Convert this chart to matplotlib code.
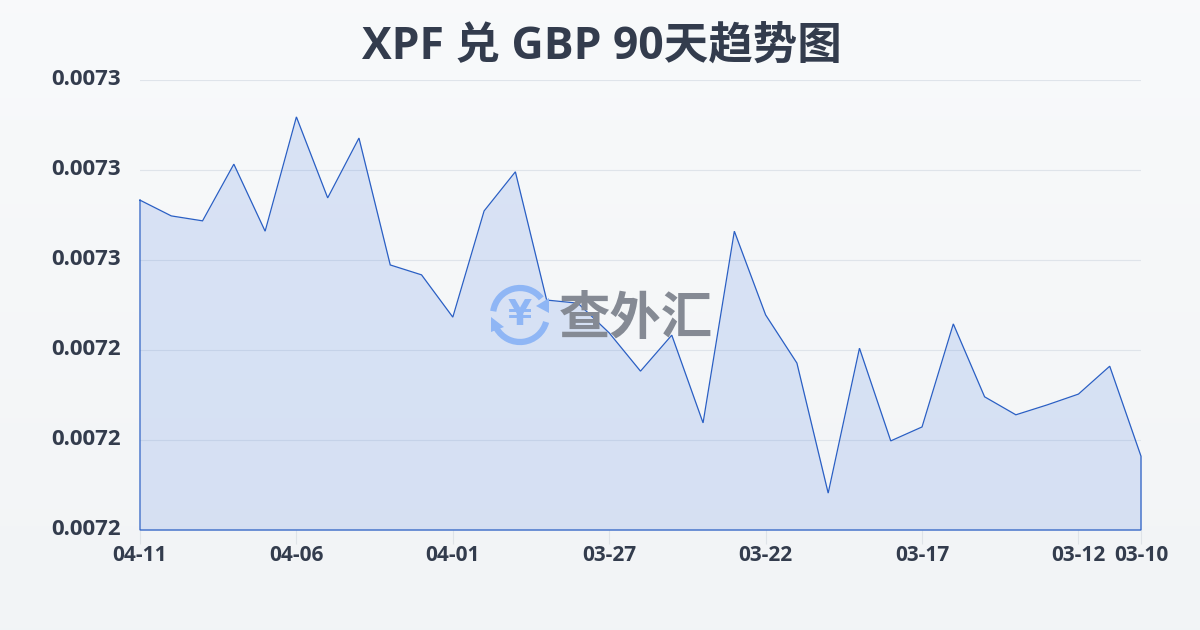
import numpy as np
import matplotlib
matplotlib.use("Agg")
import matplotlib.pyplot as plt
from matplotlib.patches import Arc, Polygon

plt.rcParams['font.family'] = ['Open Sans', 'Noto Sans CJK SC', 'DejaVu Sans']

title = "XPF 兑 GBP 90天趋势图"
watermark = "查外汇"
positions = list(range(33))
tick_positions = [0, 5, 10, 15, 20, 25, 30, 32]
tick_labels = ["04-11", "04-06", "04-01", "03-27", "03-22", "03-17", "03-12", "03-10"]
values = [0.0072733, 0.0072698, 0.0072687, 0.0072813, 0.0072664, 0.0072918,
          0.0072738, 0.0072871, 0.0072589, 0.0072567, 0.0072473, 0.0072709,
          0.0072796, 0.0072511, 0.0072504, 0.0072438, 0.0072353, 0.0072433,
          0.0072238, 0.0072664, 0.0072478, 0.0072371, 0.0072082, 0.0072404,
          0.0072198, 0.0072229, 0.0072458, 0.0072296, 0.0072256, 0.0072278,
          0.0072302, 0.0072364, 0.0072164]
y_ticks = [0.00720, 0.00722, 0.00724, 0.00726, 0.00728, 0.00730]

TEXT = "#333c4d"
LINE = "#2a5fc4"

fig = plt.figure(figsize=(12, 6.3), dpi=100)
bg = fig.add_axes([0, 0, 1, 1], zorder=0)
top = np.array([0.973, 0.980, 0.984])
bottom = np.array([0.949, 0.957, 0.965])
grad = top + np.linspace(0, 1, 256)[:, None, None] * (bottom - top)
bg.imshow(grad, aspect='auto', extent=[0, 1, 0, 1])
bg.axis('off')

ax = fig.add_axes([140/1200, 1-530/630, 1001/1200, 450/630], zorder=1)
ax.patch.set_alpha(0)
ax.set_xlim(0, 32)
ax.set_ylim(0.00720, 0.00730)
for s in ax.spines.values():
    s.set_visible(False)
ax.set_yticks(y_ticks)
ax.set_yticklabels([f"{v:.4f}" for v in y_ticks], fontsize=16, fontweight='bold', color=TEXT)
ax.set_xticks(tick_positions)
ax.set_xticklabels(tick_labels, fontsize=15, fontweight='bold', color=TEXT)
ax.tick_params(axis='y', length=0, pad=14)
for lab in ax.get_yticklabels():
    lab.set_verticalalignment('center')
ax.tick_params(axis='x', length=10, width=0.8, color="#dfe3e8", pad=1)
ax.grid(axis='y', color="#dfe4ea", lw=0.8)
ax.set_axisbelow(True)

ax.fill_between(positions, values, 0.00720, color="#3f74e0", alpha=0.16, lw=0, zorder=2)
ax.plot(positions + [32, 0, 0], values + [0.00720, 0.00720, values[0]], color=LINE, lw=0.9,
        zorder=5, clip_on=False, solid_joinstyle='miter')

fig.text(601.5/1200, 1-47/630, title, ha='center', va='center', fontsize=32, fontweight='bold', color=TEXT, zorder=3)

# watermark, drawn in figure pixel coordinates
wm = fig.add_axes([0, 0, 1, 1], zorder=2)
wm.set_xlim(0, 1200)
wm.set_ylim(630, 0)
wm.axis('off')
blue = "#8fb6f5"
cx, cy, d = 520, 315, 54
# the y axis of this overlay points down, so arc angles run clockwise on screen
wm.add_patch(Arc((cx, cy), d, d, theta1=188, theta2=322, color=blue, lw=4.5))
wm.add_patch(Arc((cx, cy), d, d, theta1=15, theta2=150, color=blue, lw=4.5))
wm.add_patch(Polygon([[549, 298], [549, 313], [536, 306]], closed=True, color=blue, lw=0))
wm.add_patch(Polygon([[491, 317], [491, 332], [504, 327]], closed=True, color=blue, lw=0))
wm.text(cx, cy, "¥", ha='center', va='center', fontsize=25, fontweight='bold', color=blue, family=['DejaVu Sans'])
wm.text(636, 321, watermark, ha='center', va='center', fontsize=37, fontweight='bold', color="#858a94")

fig.savefig("out.png", dpi=100)
